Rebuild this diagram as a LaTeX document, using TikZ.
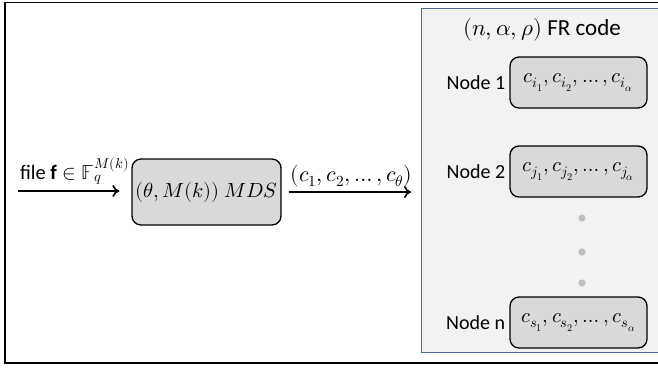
\documentclass[tikz,border=0pt]{standalone}
\usepackage{fontspec}
\usepackage{unicode-math}
\setmainfont{Carlito}
\setmathfont{Latin Modern Math}
\usetikzlibrary{positioning,arrows.meta}
\definecolor{panelblue}{RGB}{79,106,152}
\definecolor{panelgray}{RGB}{242,242,242}
\definecolor{boxgray}{RGB}{217,217,217}
\definecolor{dotgray}{RGB}{191,191,191}
\begin{document}
\begin{tikzpicture}[x=1pt,y=-1pt,
  arr/.style={-{To[length=7pt,width=12pt,line width=1.6pt]},line width=2pt},
  code box/.style={draw,rounded corners=9pt,fill=boxgray,line width=1.3pt,
    inner sep=1pt,font=\fontsize{20.5}{24}\selectfont},
  node label/.style={font=\fontsize{20}{24}\selectfont,inner sep=1pt}]

  \useasboundingbox (0,0) rectangle (658,368);
  \draw[line width=1.8pt] (5,2.5) rectangle (664,363);

  % FR code panel
  \node[draw=panelblue,fill=panelgray,line width=1.4pt,minimum width=243pt,
    minimum height=344pt,anchor=north west,inner sep=0pt] (fr) at (421,8) {};
  \node[font=\fontsize{23}{28}\selectfont] (title) at (542,30) {$(n,\alpha,\rho)$ FR code};

  \node[code box,minimum width=137pt,minimum height=51pt] (c1) at (578.5,82.5)
    {$c_{i_1},c_{i_2},\dots,c_{i_\alpha}$};
  \node[code box,minimum width=137pt,minimum height=51pt] (c2) at (578.5,171.5)
    {$c_{j_1},c_{j_2},\dots,c_{j_\alpha}$};
  \node[code box,minimum width=137pt,minimum height=51pt] (cn) at (578.5,322.5)
    {$c_{s_1},c_{s_2},\dots,c_{s_\alpha}$};
  \node[node label,left=3pt of c1] (l1) {Node 1};
  \node[node label,left=3pt of c2] (l2) {Node 2};
  \node[node label,left=3pt of cn] (ln) {Node n};

  \foreach \y in {218,252,283}
    \fill[dotgray] (582,\y) circle (3.6pt);

  % encoder
  \node[code box,minimum width=149pt,minimum height=66pt] (mds) at (206.5,192)
    {$(\theta,M(k))\;MDS$};
  \coordinate (file) at (18,191);

  \draw[arr,shorten >=12pt] (file) -- node[above=2pt,font=\fontsize{20.5}{24}\selectfont]
    {file $\mathbf{f}\in\mathbb{F}_q^{M(k)}$} (file -| mds.west);
  \draw[arr,shorten <=7pt,shorten >=10pt] (mds.east) -- node[above=1pt,font=\fontsize{22}{26}\selectfont]
    {$(c_1,c_2,\dots,c_\theta)$} (mds.east -| fr.west);
\end{tikzpicture}
\end{document}
